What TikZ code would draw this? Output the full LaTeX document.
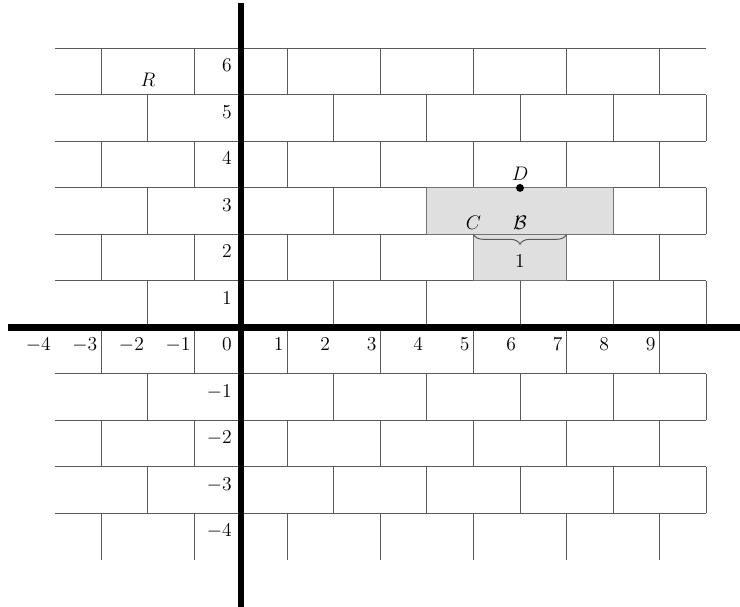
\documentclass[tikz,border=0pt]{standalone}
\usetikzlibrary{decorations.pathreplacing}
\begin{document}
\begin{tikzpicture}[x=1cm,y=1cm,
  brick/.style={draw=black!65, line width=0.6pt},
  shadebox/.style={fill=gray!25, draw=black!55, line width=0.6pt},
  axisline/.style={line width=4pt, black},
  ticklbl/.style={anchor=north east, inner sep=0pt, font=\fontsize{11.5}{14}\selectfont},
  lbl/.style={inner sep=0pt, font=\fontsize{11.5}{14}\selectfont}]
\useasboundingbox (-5.18,-5.99) rectangle (10.73,7.04);
\clip (-5.18,-5.99) rectangle (10.73,7.04);
% horizontal brick lines
\foreach \y in {-4,...,6} \draw[brick] (-4,\y) -- (10,\y);
% vertical brick joints
\foreach \r in {-5,-3,...,5} \foreach \x in {-3,-1,...,9} \draw[brick] (\x,\r) -- (\x,\r+1);
\foreach \r in {-4,-2,...,4} \foreach \x in {-2,0,...,10} \draw[brick] (\x,\r) -- (\x,\r+1);
% shaded bricks
\filldraw[shadebox] (4,2) rectangle (8,3);
\filldraw[shadebox] (5,1) rectangle (7,2);
% brace
\coordinate (bl) at (5,2);
\coordinate (br) at (7,2);
\draw[decorate, decoration={brace, mirror, amplitude=6pt}, draw=black!65, line width=0.6pt] (bl) -- (br);
\node[lbl] (one) at (6,1.42) {$1$};
% axes
\coordinate (xl) at (-5,0);
\coordinate (xr) at (11,0);
\coordinate (yb) at (0,-6);
\coordinate (yt) at (0,6.97);
\draw[axisline] (xl) -- (xr);
\draw[axisline] (yb) -- (yt);
% tick labels
\foreach \k in {-4,-3,-2,-1,1,2,3,4,5,6,7,8,9}
  \node[ticklbl] (x\k) at (\k-0.08,-0.22) {$\k$};
\node[ticklbl] (o) at (-0.19,-0.22) {$0$};
\foreach \k in {-4,-3,-2,-1,1,2,3,4,5,6}
  \node[ticklbl] (y\k) at (-0.19,\k-0.22) {$\k$};
% points and labels
\fill (6,3) circle (0.085) node (D) {};
\node[lbl] (Dl) at (6,3.3) {$D$};
\node[lbl] (C) at (5,2.25) {$C$};
\node[lbl] (B) at (6,2.25) {$\mathcal{B}$};
\node[lbl] (R) at (-2,5.32) {$R$};
\end{tikzpicture}
\end{document}
